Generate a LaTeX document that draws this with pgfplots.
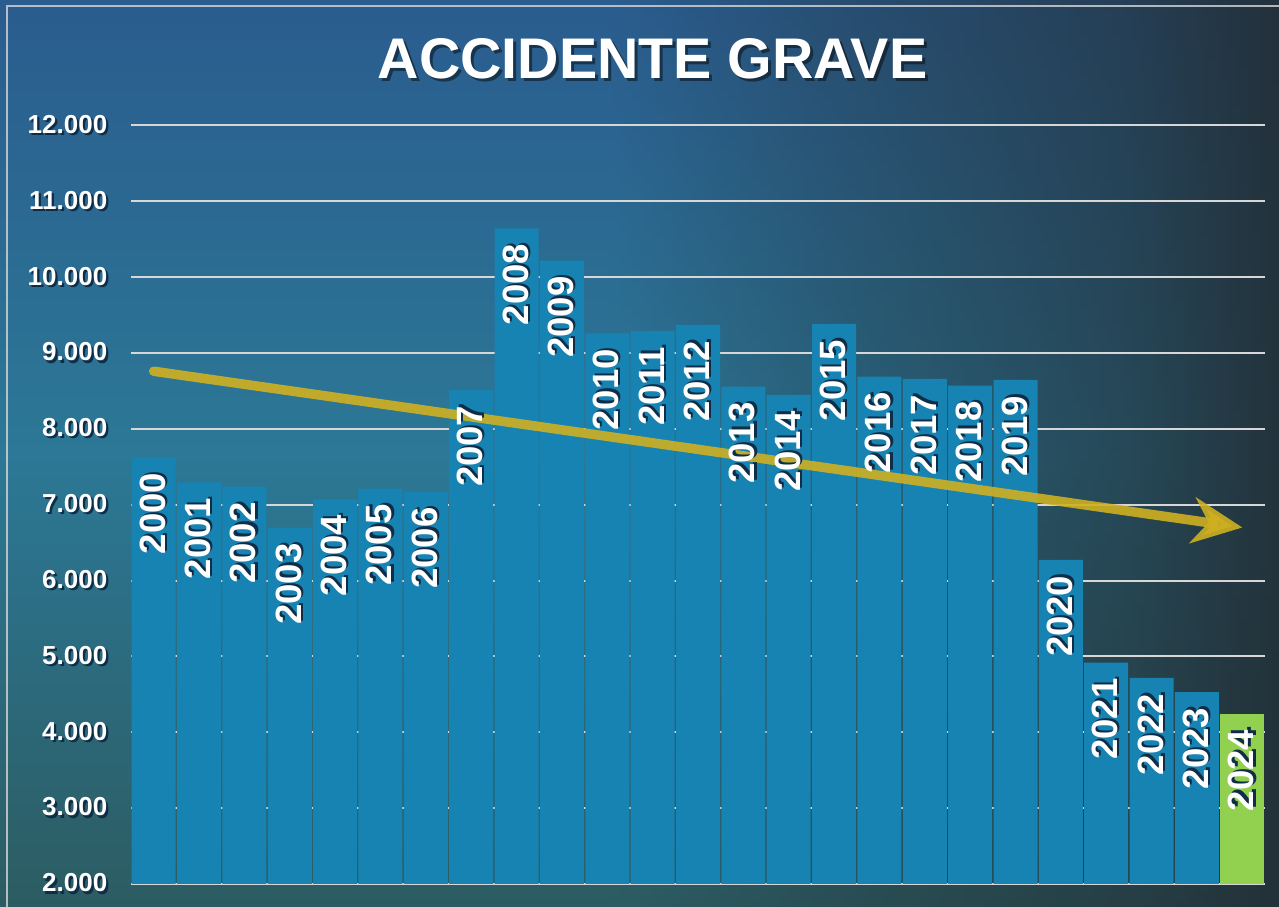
\documentclass[border=0pt]{standalone}
\usepackage{pgfplots}
\pgfplotsset{compat=1.18}
\usepackage{pgfplotstable}
\usepackage{fontspec}
\setmainfont{Liberation Sans}
\usetikzlibrary{arrows.meta}

\definecolor{barblue}{RGB}{23,131,178}
\definecolor{bargreen}{RGB}{146,208,80}
\definecolor{bgtop}{RGB}{42,92,142}
\definecolor{bgmid}{RGB}{44,120,150}
\definecolor{bgbot}{RGB}{44,92,98}
\definecolor{bgdark}{RGB}{34,45,52}
\definecolor{arrowc}{RGB}{207,176,32}
\definecolor{gridc}{RGB}{215,215,215}
\definecolor{shadowc}{RGB}{15,45,70}

\newcommand\shtext[1]{\leavevmode\rlap{\kern0.22mm\raisebox{-0.22mm}{\textcolor{shadowc}{#1}}}#1}

\pgfplotstableread{
x y label
0 7626 2000
1 7296 2001
2 7238 2002
3 6698 2003
4 7072 2004
5 7212 2005
6 7172 2006
7 8513 2007
8 10645 2008
9 10218 2009
10 9260 2010
11 9291 2011
12 9370 2012
13 8557 2013
14 8447 2014
15 9383 2015
16 8689 2016
17 8658 2017
18 8570 2018
19 8645 2019
20 6272 2020
21 4918 2021
22 4716 2022
23 4531 2023
}\datablue

\pgfplotstableread{
x y label
24 4241 2024
}\datagreen

\begin{document}
\begin{tikzpicture}
\useasboundingbox (0,0) rectangle (127.9mm,90.7mm);
\shade[top color=bgtop, bottom color=bgbot, middle color=bgmid] (0,0) rectangle (127.9mm,90.7mm);
\foreach \i in {97,...,200}{
  \pgfmathsetmacro\t{(\i-0.5)/200}
  \pgfmathsetmacro\p{100*(1-(\t<0.65 ? 0.3*(\t-0.48)/0.17 : (\t<0.88 ? 0.3+0.33*(\t-0.65)/0.23 : 0.63+0.29*(\t-0.88)/0.12)))}
  \shade[top color=bgtop!\p!bgdark, bottom color=bgbot!\p!bgdark, middle color=bgmid!\p!bgdark]
    ({(\i-1)*0.6395mm},0) rectangle ({\i*0.6395mm+0.08mm},90.7mm);
}
\draw[gridc, line width=0.2mm, opacity=0.8] (0.7mm,-1mm) -- (0.7mm,90.1mm) -- (129mm,90.1mm);

\begin{axis}[
  at={(13.1mm,2.3mm)}, anchor=south west,
  scale only axis, width=113.4mm, height=75.85mm,
  xmin=-0.5, xmax=24.5, ymin=2000, ymax=12000,
  axis line style={draw=none},
  xtick=\empty,
  scaled y ticks=false,
  ytick={2000,3000,4000,5000,6000,7000,8000,9000,10000,11000,12000},
  yticklabels={\shtext{2.000},\shtext{3.000},\shtext{4.000},\shtext{5.000},\shtext{6.000},\shtext{7.000},\shtext{8.000},\shtext{9.000},\shtext{10.000},\shtext{11.000},\shtext{12.000}},
  major tick length=0pt,
  ymajorgrids, grid style={gridc, line width=0.2mm},
  yticklabel style={font=\fontsize{7.4}{9}\selectfont\bfseries, text=white, anchor=east, inner sep=0pt, xshift=-2.3mm},
]
\addplot[ybar, bar width=0.97, fill=barblue, draw=none, point meta=explicit symbolic,
  nodes near coords={\shtext{\pgfplotspointmeta}},
  every node near coord/.append style={rotate=90, anchor=east, inner xsep=1.5mm, inner ysep=0pt, text=white, font=\fontsize{10.4}{12}\selectfont\bfseries}]
  table[x=x, y=y, meta=label] {\datablue};
\addplot[ybar, bar width=0.97, fill=bargreen, draw=none, point meta=explicit symbolic,
  nodes near coords={\shtext{\pgfplotspointmeta}},
  every node near coord/.append style={rotate=90, anchor=east, inner xsep=1.5mm, inner ysep=0pt, text=white, font=\fontsize{10.4}{12}\selectfont\bfseries}]
  table[x=x, y=y, meta=label] {\datagreen};
\addplot[arrowc, opacity=0.9, line width=0.95mm, line cap=round, -{Stealth[length=5mm, width=4.6mm, inset=1.6mm]}]
  coordinates {(0,8760) (24,6700)};
\end{axis}

\node[text=black, opacity=0.45, font=\fontsize{16.3}{19}\selectfont\bfseries] at (65.55mm,84.5mm) {ACCIDENTE GRAVE};
\node[text=white, font=\fontsize{16.3}{19}\selectfont\bfseries] at (65.25mm,84.8mm) {ACCIDENTE GRAVE};
\end{tikzpicture}
\end{document}
